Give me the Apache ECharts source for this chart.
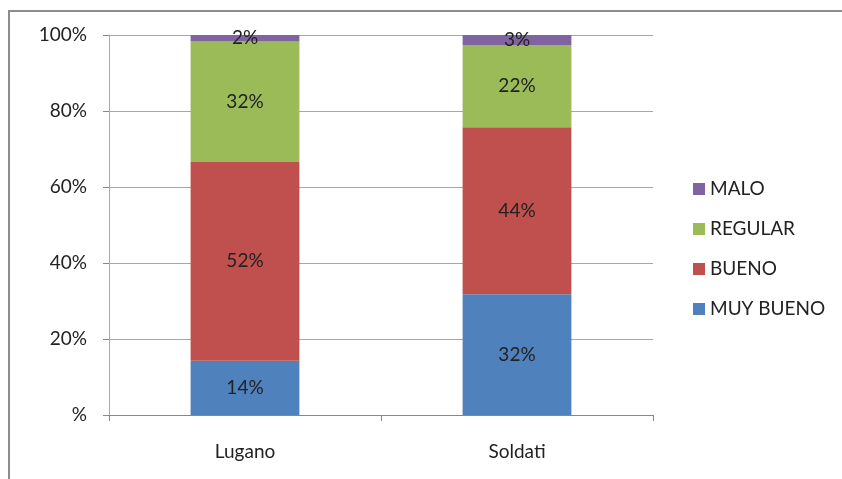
<!DOCTYPE html>
<html>
<head>
<meta charset="utf-8">
<script src="https://cdn.jsdelivr.net/npm/echarts@6/dist/echarts.min.js"></script>
<style>
  html, body { margin: 0; padding: 0; background: #fff; }
  #chart { width: 842px; height: 479px; }
</style>
</head>
<body>
<div id="chart"></div>
<script>
// datos (porcentajes de cada barra)
const categories = ['Lugano', 'Soldati'];
const muyBueno = [14.3, 31.8];
const bueno = [52.3, 43.9];
const regular = [31.7, 21.7];
const malo = [1.7, 2.6];
const yTicks = ['%', '20%', '40%', '60%', '80%', '100%'];

const font = 'Lato, "Open Sans", sans-serif';
const chart = echarts.init(document.getElementById('chart'));

const labelStyle = {
    show: true,
    position: 'inside',
    color: '#222',
    fontSize: 19,
    fontFamily: font,
    formatter: (p) => Math.round(p.value) + '%',
};

const makeSeries = (name, data) => ({
    name: name,
    type: 'bar',
    stack: 'total',
    barWidth: '40%',
    data: data,
    label: labelStyle,
});

chart.setOption({
    animation: false,
    color: ['#4F81BD', '#C0504D', '#9BBB59', '#8064A2'],
    graphic: [
        {
            type: 'rect',
            shape: { x: 9, y: 11, width: 900, height: 600 },
            style: { fill: 'none', stroke: '#8c8c8c', lineWidth: 2 },
        },
    ],
    grid: {
        left: 109,
        top: 35,
        width: 544,
        height: 380,
    },
    legend: {
        orient: 'vertical',
        left: 688,
        top: 174,
        itemWidth: 12,
        itemHeight: 12,
        itemGap: 20,
        icon: 'rect',
        data: ['MALO', 'REGULAR', 'BUENO', 'MUY BUENO'],
        textStyle: {
            fontSize: 19,
            lineHeight: 20,
            color: '#222',
            fontFamily: font,
        },
    },
    xAxis: {
        type: 'category',
        data: categories,
        axisLine: { lineStyle: { color: '#888' } },
        axisTick: { show: true, length: 6, lineStyle: { color: '#888' } },
        axisLabel: {
            color: '#222',
            fontSize: 19,
            fontFamily: font,
            margin: 27,
        },
    },
    yAxis: {
        type: 'value',
        min: 0,
        max: 100,
        interval: 20,
        axisLine: { show: true, lineStyle: { color: '#aaa' } },
        axisTick: { show: true, length: 6, lineStyle: { color: '#888' } },
        splitLine: { lineStyle: { color: '#a6a6a6' } },
        axisLabel: {
            color: '#222',
            fontSize: 19,
            fontFamily: font,
            margin: 22,
            formatter: (v) => yTicks[v / 20],
        },
    },
    series: [
        makeSeries('MUY BUENO', muyBueno),
        makeSeries('BUENO', bueno),
        makeSeries('REGULAR', regular),
        makeSeries('MALO', malo),
    ],
});
</script>
</body>
</html>
